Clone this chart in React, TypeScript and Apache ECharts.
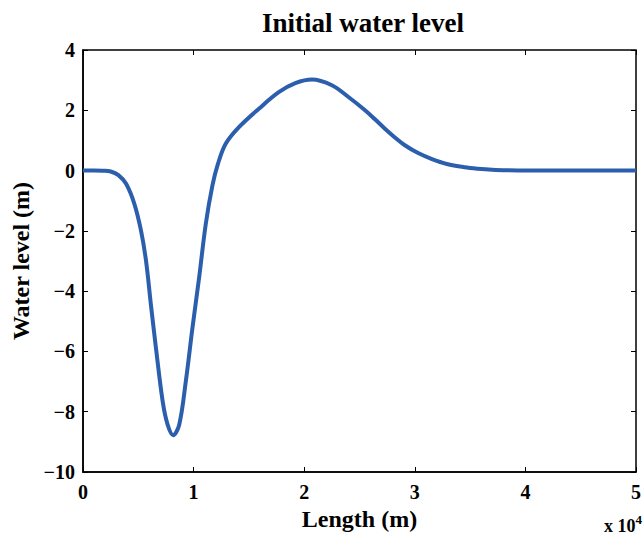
import React, { useEffect, useRef } from "react";
import * as echarts from "echarts";

const lengthX = [0, 0.1, 0.18, 0.25, 0.32, 0.39, 0.465, 0.525, 0.57, 0.614, 0.66, 0.72, 0.765, 0.815, 0.87, 0.93, 0.99, 1.05, 1.11, 1.17, 1.22, 1.29, 1.41, 1.59, 1.77, 1.92, 2.07, 2.25, 2.4, 2.55, 2.64, 2.73, 2.82, 2.91, 3.03, 3.15, 3.29, 3.45, 3.57, 3.7, 3.85, 4.0, 4.5, 5.0];
const waterLevel = [0, 0, -0.005, -0.03, -0.15, -0.44, -1.11, -2.0, -3.0, -4.45, -5.9, -7.65, -8.43, -8.78, -8.43, -6.98, -5.21, -3.55, -1.77, -0.5, 0.22, 0.89, 1.44, 2.05, 2.6, 2.9, 3.02, 2.83, 2.44, 2.0, 1.7, 1.39, 1.1, 0.84, 0.58, 0.39, 0.22, 0.11, 0.06, 0.025, 0.007, 0, 0, 0];

const FONT = '"Liberation Serif", "Times New Roman", serif';

export default function App() {
  const ref = useRef<HTMLDivElement>(null);
  useEffect(() => {
    if (!ref.current) return;
    const chart = echarts.init(ref.current, null, { renderer: "svg" });
    const data = lengthX.map((x, i) => [x, waterLevel[i]]);
    const fmt = (v: number) => (v < 0 ? "\u2212" + Math.abs(v) : String(v));
    const labelStyle = { color: "#000", fontFamily: FONT, fontWeight: "bold" as const, fontSize: 20 };
    const tick = { inside: true, length: 5, lineStyle: { color: "#000", width: 1 } };
    chart.setOption({
      animation: false,
      backgroundColor: "#fff",
      title: {
        text: "Initial water level",
        left: 358,
        top: 4,
        textAlign: "center",
        textStyle: { color: "#000", fontFamily: FONT, fontWeight: "bold", fontSize: 27 },
      },
      grid: {
        left: 83,
        right: 6,
        top: 50,
        bottom: 66,
        show: true,
        borderColor: "#000",
        borderWidth: 1.5,
        backgroundColor: "#fff",
      },
      xAxis: [
        {
          type: "value",
          min: 0,
          max: 5,
          interval: 1,
          position: "bottom",
          name: "Length (m)",
          nameLocation: "middle",
          nameGap: 34,
          nameTextStyle: { ...labelStyle, fontSize: 24 },
          axisLine: { show: true, onZero: false, lineStyle: { color: "#000", width: 1.5 } },
          axisTick: tick,
          axisLabel: { ...labelStyle, margin: 10 },
          splitLine: { show: false },
        },
        {
          type: "value",
          min: 0,
          max: 5,
          interval: 1,
          position: "top",
          axisLine: { show: false, onZero: false },
          axisTick: tick,
          axisLabel: { show: false },
          splitLine: { show: false },
        },
      ],
      yAxis: [
        {
          type: "value",
          min: -10,
          max: 4,
          interval: 2,
          position: "left",
          name: "Water level (m)",
          nameLocation: "middle",
          nameGap: 44,
          nameTextStyle: { ...labelStyle, fontSize: 24 },
          axisLine: { show: true, onZero: false, lineStyle: { color: "#000", width: 1.5 } },
          axisTick: tick,
          axisLabel: { ...labelStyle, margin: 8, formatter: fmt },
          splitLine: { show: false },
        },
        {
          type: "value",
          min: -10,
          max: 4,
          interval: 2,
          position: "right",
          axisLine: { show: false, onZero: false },
          axisTick: tick,
          axisLabel: { show: false },
          splitLine: { show: false },
        },
      ],
      graphic: [
        {
          type: "text",
          right: 2,
          top: 513,
          style: {
            text: "{a|x 10}{b|4}",
            rich: {
              a: { fontFamily: FONT, fontWeight: "bold", fontSize: 18, fill: "#000", verticalAlign: "bottom", lineHeight: 22 },
              b: { fontFamily: FONT, fontWeight: "bold", fontSize: 13, fill: "#000", verticalAlign: "top", lineHeight: 22 },
            },
          },
        },
      ],
      series: [
        {
          type: "line",
          data,
          xAxisIndex: 0,
          yAxisIndex: 0,
          smooth: 0.35,
          showSymbol: false,
          symbol: "none",
          lineStyle: { color: "#2b5fad", width: 4 },
          clip: true,
        },
      ],
    });
    return () => chart.dispose();
  }, []);
  return <div ref={ref} style={{ position: "fixed", left: 0, top: 0, width: 644, height: 538 }} />;
}
